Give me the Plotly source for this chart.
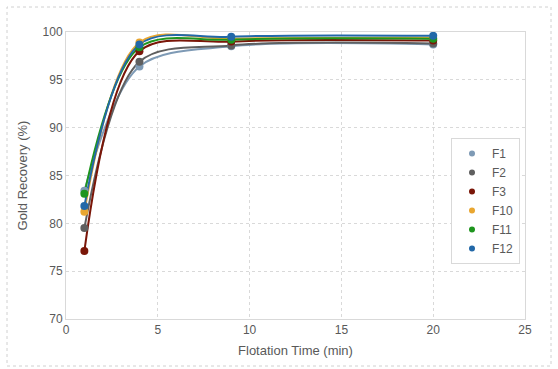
import plotly.graph_objects as go

time_min = [1, 4, 9, 20]
series_names = ["F1", "F2", "F3", "F10", "F11", "F12"]
F1 = [83.4, 96.4, 98.5, 98.7]
F2 = [79.5, 96.9, 98.6, 98.8]
F3 = [77.1, 98.0, 99.0, 99.1]
F10 = [81.2, 98.9, 99.3, 99.4]
F11 = [83.1, 98.4, 99.2, 99.3]
F12 = [81.8, 98.7, 99.5, 99.6]
series_values = [F1, F2, F3, F10, F11, F12]
colors = ["#7E9AB5", "#5F5F5F", "#7A1608", "#E9A630", "#1E951E", "#2268A8"]

x_ticks = [0, 5, 10, 15, 20, 25]
y_ticks = [70, 75, 80, 85, 90, 95, 100]

fig = go.Figure()
for name, vals, c in zip(series_names, series_values, colors):
    fig.add_trace(go.Scatter(x=time_min, y=vals, mode="lines",
                             line=dict(color=c, width=2, shape="spline", smoothing=0.9),
                             showlegend=False, hoverinfo="skip"))
for name, vals, c in zip(series_names, series_values, colors):
    fig.add_trace(go.Scatter(x=time_min, y=vals, mode="markers", name=name,
                             marker=dict(color=c, size=8), showlegend=False))
# legend entries (small dots, as in the reference)
for name, c in zip(series_names, colors):
    fig.add_trace(go.Scatter(x=[None], y=[None], mode="markers", name=name,
                             marker=dict(color=c, size=6)))

W, H = 558, 369
ml, mr, mt, mb = 66, 33, 32, 50
pw, ph = W - ml - mr, H - mt - mb

def px_x(p):
    return (p - ml) / pw

def px_y(p):
    return (H - mb - p) / ph

grid = "#D9D9D9"
fig.update_layout(
    width=W, height=H,
    margin=dict(l=ml, r=mr, t=mt, b=mb),
    paper_bgcolor="white", plot_bgcolor="white",
    font=dict(family="Liberation Sans, Arial, sans-serif", size=12, color="#595959"),
    xaxis=dict(range=[0, 25], tickvals=x_ticks, showgrid=True, gridcolor=grid,
               griddash="dot", gridwidth=1, zeroline=False, showline=True,
               linecolor=grid, mirror=True, ticks="", ticklen=0,
               title=dict(text="Flotation Time (min)", font=dict(size=13), standoff=9)),
    yaxis=dict(range=[70, 100], tickvals=y_ticks, showgrid=True, gridcolor=grid,
               griddash="dot", gridwidth=1, zeroline=False, showline=True,
               linecolor=grid, mirror=True, ticks="", ticklen=0,
               title=dict(text="Gold Recovery (%)", font=dict(size=13), standoff=12)),
    legend=dict(x=px_x(451), y=px_y(138), xanchor="left", yanchor="top",
                bordercolor=grid, borderwidth=1, bgcolor="white",
                font=dict(size=12, color="#595959"), itemwidth=30,
                tracegroupgap=0),
    shapes=[dict(type="rect", xref="paper", yref="paper",
                 x0=px_x(7), x1=px_x(551), y0=px_y(366), y1=px_y(7),
                 line=dict(color="#D0D0D0", width=1, dash="dot"), layer="below")],
)

fig.write_html("out.html", config={"displayModeBar": False},
               post_script="document.body.style.margin='0';document.body.style.overflow='hidden';")
